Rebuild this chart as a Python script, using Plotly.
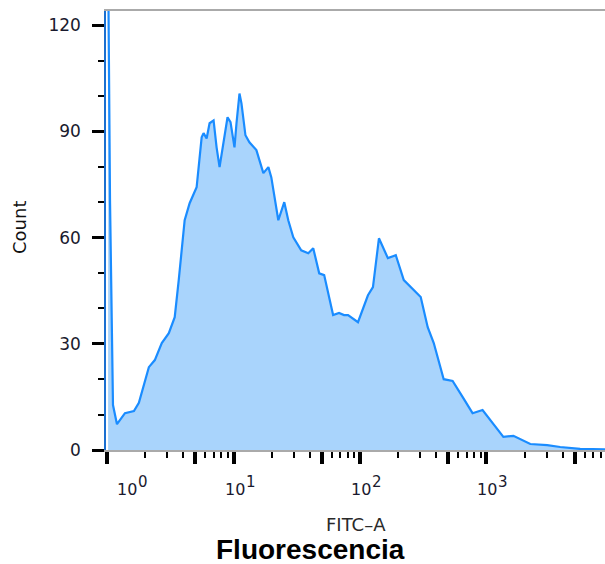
import numpy as np
import plotly.graph_objects as go

# FITC-A fluorescence values (bin centres) and counts
fitc = [1.02, 1.056, 1.115, 1.199, 1.386, 1.632, 1.786, 2.142, 2.388, 2.71, 3.08, 3.43, 3.69,
        4.11, 4.5, 5.11, 5.6, 5.8, 6.13, 6.47, 6.96, 7.35, 7.76, 8.34, 8.97, 9.47, 10.18,
        10.56, 11.15, 11.56, 12.43, 13.36, 15.17, 17.22, 18.87, 19.91, 22.61, 25.2, 27.1,
        29.7, 34.3, 39.0, 42.7, 47.6, 52.1, 61.3, 68.3, 74.8, 80.5, 96.4, 115.6, 126.6,
        141.2, 166.1, 191.9, 222, 302, 343, 383, 459, 540, 647, 776, 931, 1075, 1360, 1633,
        2220, 3020, 3827, 5500, 8650]
count = [140, 70.6, 12.7, 7.3, 10.4, 11.0, 13.3, 23.4, 25.4, 30.2, 33.0, 37.5, 48.0,
         64.9, 69.7, 74.2, 88.3, 89.5, 88.0, 92.3, 93.1, 85.5, 79.9, 86.6, 94.0, 92.6, 85.5,
         92.3, 100.7, 97.9, 88.9, 86.9, 84.7, 78.2, 79.9, 77.0, 64.9, 70.0, 64.9,
         60.1, 56.4, 55.6, 57.0, 49.9, 49.4, 38.1, 38.7, 38.1, 38.1, 36.1, 43.7, 46.0,
         59.8, 54.2, 55.0, 48.0, 43.2, 34.7, 30.2, 20.0, 19.5, 15.0, 10.4, 11.3, 8.5, 3.7, 4.0,
         1.7, 1.4, 0.85, 0.3, 0.2]

x_major = [1, 5, 10, 50, 100, 500, 1000, 5000]
x_minor = [2, 3, 4, 6, 7, 8, 9, 20, 30, 40, 60, 70, 80, 90, 200, 300, 400, 600, 700, 800, 900,
           2000, 3000, 4000, 6000, 7000, 8000]
x_label_vals = [1, 10, 100, 1000]
x_label_exps = ["0", "1", "2", "3"]
y_major = [0, 30, 60, 90, 120]
y_minor = [10, 20, 40, 50, 70, 80, 100, 110]

fig = go.Figure()
fig.add_trace(go.Scatter(
    x=fitc, y=count, mode="lines",
    line=dict(color="#1a8cff", width=2.2, shape="linear"),
    fill="tozeroy", fillcolor="rgba(160,207,252,0.9)",
    hoverinfo="skip", showlegend=False,
))

labfont = dict(family="DejaVu Sans", size=16, color="#1a1a2e")

fig.update_layout(
    width=605, height=564,
    margin=dict(l=106, r=0, t=11, b=114),
    paper_bgcolor="white", plot_bgcolor="white",
    xaxis=dict(
        type="log", range=[-0.008, 3.937],
        showgrid=False, zeroline=False,
        showline=True, linecolor="#aaaaaa", linewidth=1.5, mirror=True,
        tickmode="array", tickvals=x_major, showticklabels=False,
        ticks="outside", ticklen=12, tickwidth=3.5, tickcolor="black",
        minor=dict(tickmode="array", tickvals=x_minor, ticks="outside",
                   ticklen=6, tickwidth=1.5, tickcolor="black"),
    ),
    yaxis=dict(
        range=[0, 124],
        showgrid=False, zeroline=False,
        showline=True, linecolor="#1a6fd0", linewidth=1.5,
        tickmode="array", tickvals=y_major,
        ticks="outside", ticklen=12, tickwidth=3, tickcolor="black",
        tickfont=dict(family="DejaVu Sans", size=17, color="#1a1a2e"),
        ticklabelstandoff=8,
        minor=dict(tickmode="array", tickvals=y_minor, ticks="outside",
                   ticklen=6, tickwidth=1.5, tickcolor="black"),
    ),
)

# decade labels "10^n" with a large exponent, as in the reference
label_shift = [26, 7, 7, 7]
for v, e, s in zip(x_label_vals, x_label_exps, label_shift):
    fig.add_annotation(x=np.log10(v), y=0, xref="x", yref="paper",
                       xshift=s - 6, yshift=-39,
                       text="10", showarrow=False, font=labfont,
                       xanchor="center", yanchor="middle")
    fig.add_annotation(x=np.log10(v), y=0, xref="x", yref="paper",
                       xshift=s + 10, yshift=-32,
                       text=e, showarrow=False,
                       font=dict(family="DejaVu Sans", size=15, color="#1a1a2e"),
                       xanchor="center", yanchor="middle")

fig.add_annotation(x=0.5, y=0, xref="paper", yref="paper", yshift=-74,
                   text="FITC\u2013A", showarrow=False, borderpad=0,
                   font=dict(family="DejaVu Sans", size=18, color="#2a2a2a"),
                   xanchor="center", yanchor="middle")

fig.add_annotation(x=-0.1723, y=0.5057, xref="paper", yref="paper",
                   text="Count", textangle=-90, showarrow=False,
                   font=dict(family="DejaVu Sans", size=18, color="#111"),
                   xanchor="center", yanchor="middle")

# Bold caption below the axis
fig.add_annotation(x=0.41, y=0, xref="paper", yref="paper", yshift=-99,
                   text="<b>Fluorescencia</b>", showarrow=False, borderpad=0,
                   font=dict(family="Liberation Sans", size=28, color="black"),
                   xanchor="center", yanchor="middle")

fig.write_html("out.html")
